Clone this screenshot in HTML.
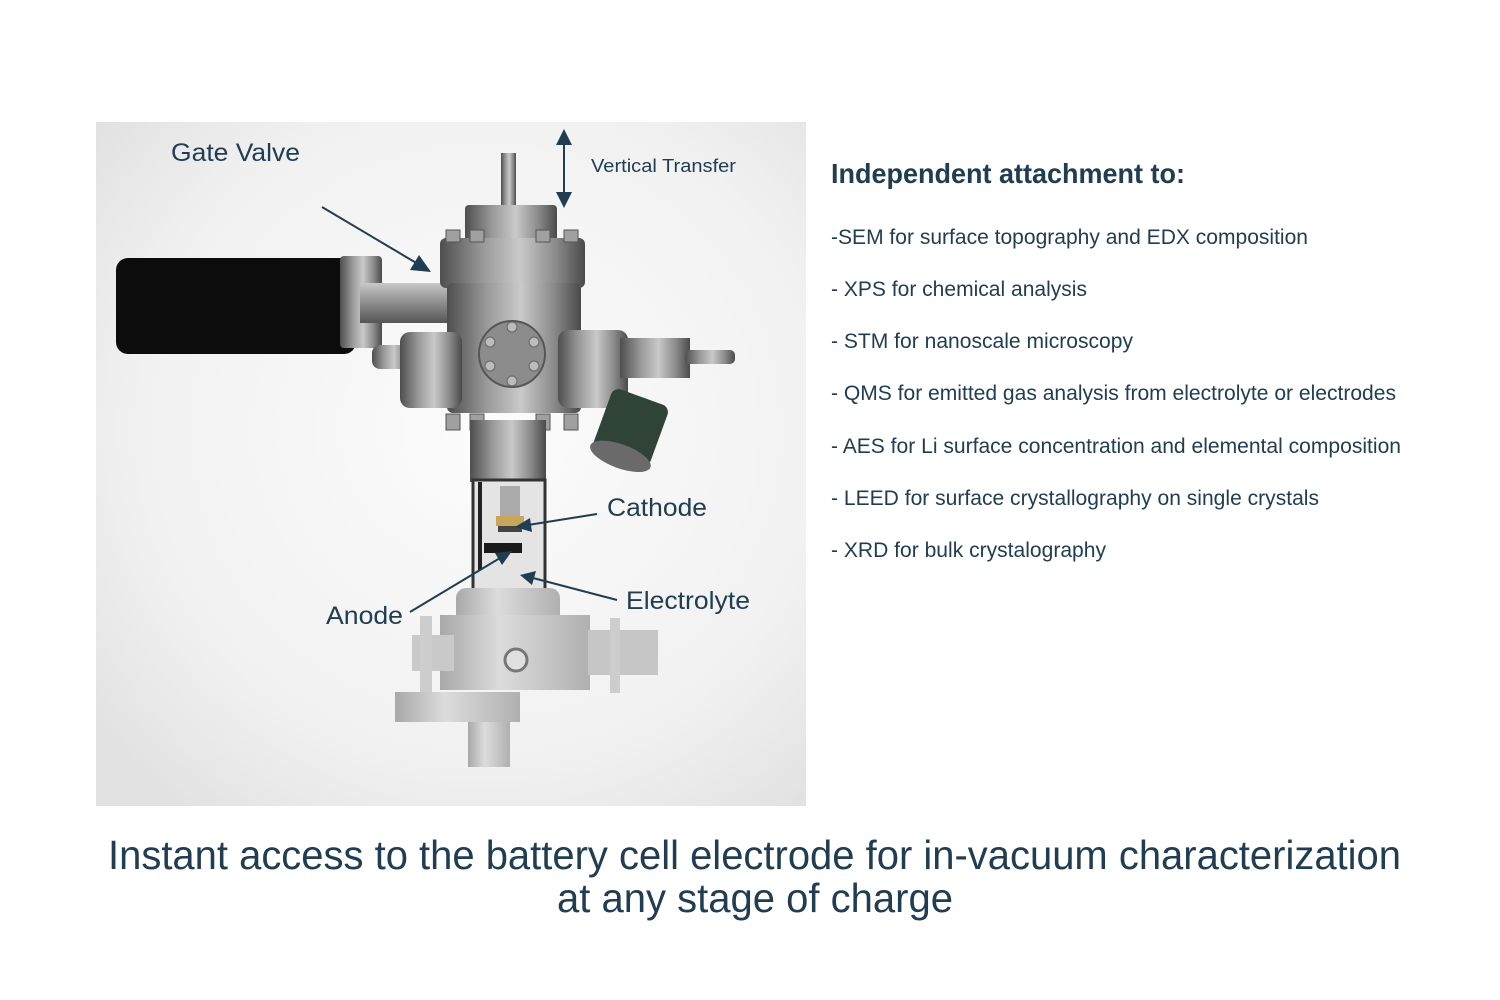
<!DOCTYPE html>
<html><head><meta charset="utf-8">
<style>
html,body{margin:0;padding:0;background:#fff;}
svg{display:block;}
text{font-family:"Liberation Sans",Arial,sans-serif;fill:#213d52;}
</style></head>
<body>
<svg width="1500" height="1000" viewBox="0 0 1500 1000" xmlns="http://www.w3.org/2000/svg">
<defs>
<radialGradient id="bg" cx="0.55" cy="0.45" r="0.7">
<stop offset="0" stop-color="#fcfcfc"/><stop offset="0.7" stop-color="#f1f1f1"/><stop offset="1" stop-color="#e2e2e2"/>
</radialGradient>
<linearGradient id="metal" x1="0" x2="1" y1="0" y2="0">
<stop offset="0" stop-color="#4e4e4e"/><stop offset="0.3" stop-color="#9a9a9a"/><stop offset="0.55" stop-color="#c9c9c9"/><stop offset="0.8" stop-color="#8a8a8a"/><stop offset="1" stop-color="#4a4a4a"/>
</linearGradient>
<linearGradient id="light" x1="0" x2="1" y1="0" y2="0">
<stop offset="0" stop-color="#a8a8a8"/><stop offset="0.4" stop-color="#dcdcdc"/><stop offset="1" stop-color="#b0b0b0"/>
</linearGradient>
<linearGradient id="tube" x1="0" x2="0" y1="0" y2="1">
<stop offset="0" stop-color="#c8c8c8"/><stop offset="0.5" stop-color="#8d8d8d"/><stop offset="1" stop-color="#555"/>
</linearGradient>
</defs>
<rect x="96" y="122" width="710" height="684" fill="url(#bg)"/>

<!-- handle -->
<rect x="116" y="258" width="240" height="96" rx="12" fill="#0c0c0c"/>
<rect x="340" y="256" width="42" height="92" rx="4" fill="url(#metal)"/>
<rect x="360" y="283" width="125" height="40" fill="url(#tube)"/>
<!-- top rod & cylinder -->
<rect x="501" y="153" width="15" height="55" fill="url(#metal)"/>
<rect x="465" y="205" width="92" height="36" rx="4" fill="url(#metal)"/>
<rect x="440" y="238" width="145" height="50" rx="6" fill="url(#metal)"/>
<rect x="447" y="283" width="134" height="130" rx="6" fill="url(#metal)"/>
<!-- side flanges -->
<rect x="372" y="345" width="40" height="24" rx="8" fill="url(#metal)"/>
<rect x="400" y="332" width="62" height="76" rx="10" fill="url(#metal)"/>
<rect x="558" y="330" width="70" height="78" rx="10" fill="url(#metal)"/>
<rect x="620" y="338" width="70" height="40" fill="url(#metal)"/>
<rect x="685" y="350" width="50" height="14" rx="5" fill="url(#metal)"/>
<circle cx="512" cy="354" r="33" fill="#8c8c8c" stroke="#555" stroke-width="2"/>
<g fill="#bbb" stroke="#666"><circle cx="512" cy="327" r="5"/><circle cx="512" cy="381" r="5"/><circle cx="490" cy="342" r="5"/><circle cx="534" cy="342" r="5"/><circle cx="490" cy="366" r="5"/><circle cx="534" cy="366" r="5"/></g>
<!-- bolts -->
<g fill="#a0a0a0" stroke="#555"><rect x="446" y="230" width="14" height="12"/><rect x="470" y="230" width="14" height="12"/><rect x="536" y="230" width="14" height="12"/><rect x="564" y="230" width="14" height="12"/>
<rect x="446" y="414" width="14" height="16"/><rect x="470" y="414" width="14" height="16"/><rect x="536" y="414" width="14" height="16"/><rect x="564" y="414" width="14" height="16"/></g>
<!-- gauge -->
<g transform="rotate(20 630 430)"><rect x="600" y="395" width="60" height="65" rx="8" fill="#2f4437"/><ellipse cx="630" cy="458" rx="32" ry="12" fill="#6a6a6a"/></g>
<!-- neck & glass -->
<rect x="470" y="420" width="76" height="62" fill="url(#metal)"/>
<rect x="473" y="480" width="72" height="112" fill="#e4e4e4" stroke="#333" stroke-width="3"/>
<rect x="478" y="482" width="4" height="88" fill="#222"/>
<rect x="500" y="486" width="20" height="30" fill="#aaa"/>
<rect x="496" y="516" width="28" height="10" fill="#c9a65a"/>
<rect x="498" y="526" width="24" height="6" fill="#444"/>
<rect x="484" y="543" width="38" height="10" fill="#1a1a1a"/>
<!-- lower block -->
<rect x="456" y="588" width="104" height="36" rx="10" fill="url(#light)"/>
<rect x="440" y="615" width="150" height="75" fill="url(#light)"/>
<rect x="412" y="635" width="42" height="36" fill="#c9c9c9"/>
<rect x="588" y="630" width="70" height="45" fill="#c6c6c6"/>
<rect x="610" y="618" width="10" height="75" fill="#cdcdcd"/>
<rect x="420" y="616" width="12" height="78" fill="#cdcdcd"/>
<circle cx="516" cy="660" r="11" fill="#e0e0e0" stroke="#777" stroke-width="3"/>
<rect x="395" y="692" width="125" height="30" fill="url(#light)"/>
<rect x="468" y="722" width="42" height="45" fill="url(#light)"/>

<!-- arrows -->
<g stroke="#213d52" stroke-width="2" fill="#213d52">
<line x1="322" y1="207" x2="418" y2="264"/><polygon points="431,272 410,270 419,255" stroke="none"/>
<line x1="564" y1="140" x2="564" y2="198"/><polygon points="564,129 556,145 572,145" stroke="none"/><polygon points="564,208 556,192 572,192" stroke="none"/>
<line x1="597" y1="514" x2="528" y2="525"/><polygon points="515,527 530,518 532,532" stroke="none"/>
<line x1="410" y1="612" x2="500" y2="558"/><polygon points="512,551 502,565 495,553" stroke="none"/>
<line x1="617" y1="600" x2="533" y2="578"/><polygon points="520,575 536,571 532,585" stroke="none"/>
</g>

<!-- labels -->
<text x="171" y="161" font-size="25" textLength="129" lengthAdjust="spacingAndGlyphs">Gate Valve</text>
<text x="591" y="172" font-size="18" textLength="145" lengthAdjust="spacingAndGlyphs">Vertical Transfer</text>
<text x="607" y="516" font-size="25" textLength="100" lengthAdjust="spacingAndGlyphs">Cathode</text>
<text x="626" y="609" font-size="25" textLength="124" lengthAdjust="spacingAndGlyphs">Electrolyte</text>
<text x="326" y="624" font-size="25" textLength="77" lengthAdjust="spacingAndGlyphs">Anode</text>

<text x="831" y="183" font-size="28" font-weight="bold" textLength="354" lengthAdjust="spacingAndGlyphs">Independent attachment to:</text>
<g font-size="21">
<text x="831" y="244" textLength="477" lengthAdjust="spacingAndGlyphs">-SEM for surface topography and EDX composition</text>
<text x="831" y="296" textLength="256" lengthAdjust="spacingAndGlyphs">- XPS for chemical analysis</text>
<text x="831" y="348" textLength="302" lengthAdjust="spacingAndGlyphs">- STM for nanoscale microscopy</text>
<text x="831" y="400" textLength="565" lengthAdjust="spacingAndGlyphs">- QMS for emitted gas analysis from electrolyte or electrodes</text>
<text x="831" y="453" textLength="570" lengthAdjust="spacingAndGlyphs">- AES for Li surface concentration and elemental composition</text>
<text x="831" y="505" textLength="488" lengthAdjust="spacingAndGlyphs">- LEED for surface crystallography on single crystals</text>
<text x="831" y="557" textLength="275" lengthAdjust="spacingAndGlyphs">- XRD for bulk crystalography</text>
</g>
<text x="108" y="869" font-size="41" textLength="1293" lengthAdjust="spacingAndGlyphs">Instant access to the battery cell electrode for in-vacuum characterization</text>
<text x="557" y="912" font-size="41" textLength="396" lengthAdjust="spacingAndGlyphs">at any stage of charge</text>
</svg>
</body></html>
